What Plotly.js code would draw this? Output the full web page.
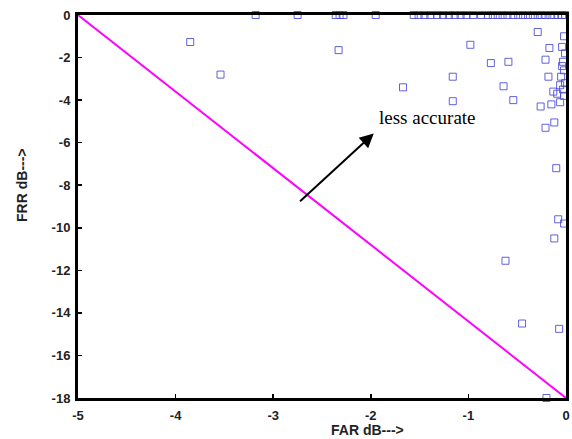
<!DOCTYPE html>
<html><head><meta charset="utf-8">
<script src="https://cdn.plot.ly/plotly-3.0.1.min.js"></script>
<style>body{margin:0;background:#fff}#c{width:572px;height:439px}</style>
</head><body><div id="c"></div>
<script>
// Scatter points: FAR (dB) and FRR (dB)
const farTop = [-3.18,-2.75,-2.36,-2.32,-2.28,-1.95,-1.56,-1.51,-1.45,-1.39,-1.32,-1.26,-1.20,-1.14,-1.08,-1.02,-0.95,-0.87,-0.80,-0.75,-0.70,-0.65,-0.60,-0.54,-0.49,-0.44,-0.39,-0.34,-0.29,-0.25,-0.21,-0.16,-0.12,-0.08,-0.04,-0.01];
const frrTop = farTop.map(() => 0);
const farPts = [-3.85,-3.54,-2.33,-1.67,-0.98,-1.16,-1.16,-0.77,-0.59,-0.64,-0.54,-0.29,-0.17,-0.21,-0.18,-0.26,-0.21,-0.12,-0.09,-0.06,-0.10,-0.08,-0.12,-0.02,-0.62,-0.45,-0.07,-0.20,
                -0.02,-0.04,-0.01,-0.03,-0.02,-0.05,-0.01,-0.03,-0.02,-0.06,-0.04,-0.13,-0.15];
const frrPts = [-1.27,-2.8,-1.65,-3.4,-1.4,-4.05,-2.9,-2.26,-2.2,-3.35,-4.0,-0.8,-1.55,-2.1,-2.9,-4.3,-5.3,-5.05,-3.7,-3.3,-7.2,-9.6,-10.5,-9.8,-11.55,-14.5,-14.75,-18.0,
                -1.0,-1.5,-1.8,-2.2,-2.6,-2.9,-3.2,-3.5,-3.8,-4.1,-2.4,-3.6,-4.2];
// Reference line
const lineX = [-5, 0];
const lineY = [0, -18];
// Arrow + annotation
const arrowTail = [-2.74, -8.82];
const arrowHead = [-1.97, -5.57];
const noteText = 'less accurate';
const notePos = [-1.42, -4.8];
const xTicks = [-5,-4,-3,-2,-1,0];
const yTicks = [-18,-16,-14,-12,-10,-8,-6,-4,-2,0];
const xTitle = 'FAR dB--->';
const yTitle = 'FRR dB--->';

const fam = 'Arial, Liberation Sans, sans-serif';
const mk = {symbol:'square-open', size:7, color:'rgba(70,70,215,0.85)', line:{width:1}};
const data = [
  {x: farTop.concat(farPts), y: frrTop.concat(frrPts), mode:'markers', type:'scatter', marker: mk, cliponaxis:false, hoverinfo:'skip'},
  {x: lineX, y: lineY, mode:'lines', type:'scatter', line:{color:'#ff00ff', width:2}, cliponaxis:false}
];
const axBase = {showgrid:false, zeroline:false, showline:true, linecolor:'#000', linewidth:3, mirror:true,
  ticks:'inside', ticklen:4, tickcolor:'#000', tickwidth:1.5,
  tickfont:{family:fam, size:13, color:'#222', weight:'bold'}};
const layout = {
  width:572, height:439, showlegend:false,
  paper_bgcolor:'#fff', plot_bgcolor:'#fff',
  margin:{l:78, r:6, t:15, b:41},
  xaxis: Object.assign({}, axBase, {range:[-5,0], tickvals:xTicks, ticktext:xTicks.map(String), ticklabelstandoff:3}),
  yaxis: Object.assign({}, axBase, {range:[-18,0], tickvals:yTicks, ticktext:yTicks.map(String), ticklabelstandoff:2}),
  annotations:[
    {x:arrowHead[0], y:arrowHead[1], ax:arrowTail[0], ay:arrowTail[1], axref:'x', ayref:'y', xref:'x', yref:'y',
     showarrow:true, arrowhead:2, arrowsize:1.4, arrowwidth:2, arrowcolor:'#000', text:''},
    {x:notePos[0], y:notePos[1], xref:'x', yref:'y', text:noteText, showarrow:false,
     font:{family:'Liberation Serif, Times New Roman, serif', size:19, color:'#000'}},
    {x:-2.03, y:-0.083, xref:'x', yref:'paper', text:xTitle, showarrow:false, xanchor:'center', yanchor:'middle',
     font:{family:fam, size:14, color:'#222', weight:'bold'}},
    {x:-0.115, y:0.556, xref:'paper', yref:'paper', text:yTitle, showarrow:false, textangle:-90, xanchor:'center', yanchor:'middle',
     font:{family:fam, size:14, color:'#222', weight:'bold'}}
  ]
};
Plotly.newPlot('c', data, layout, {staticPlot:true, displayModeBar:false});
</script></body></html>
